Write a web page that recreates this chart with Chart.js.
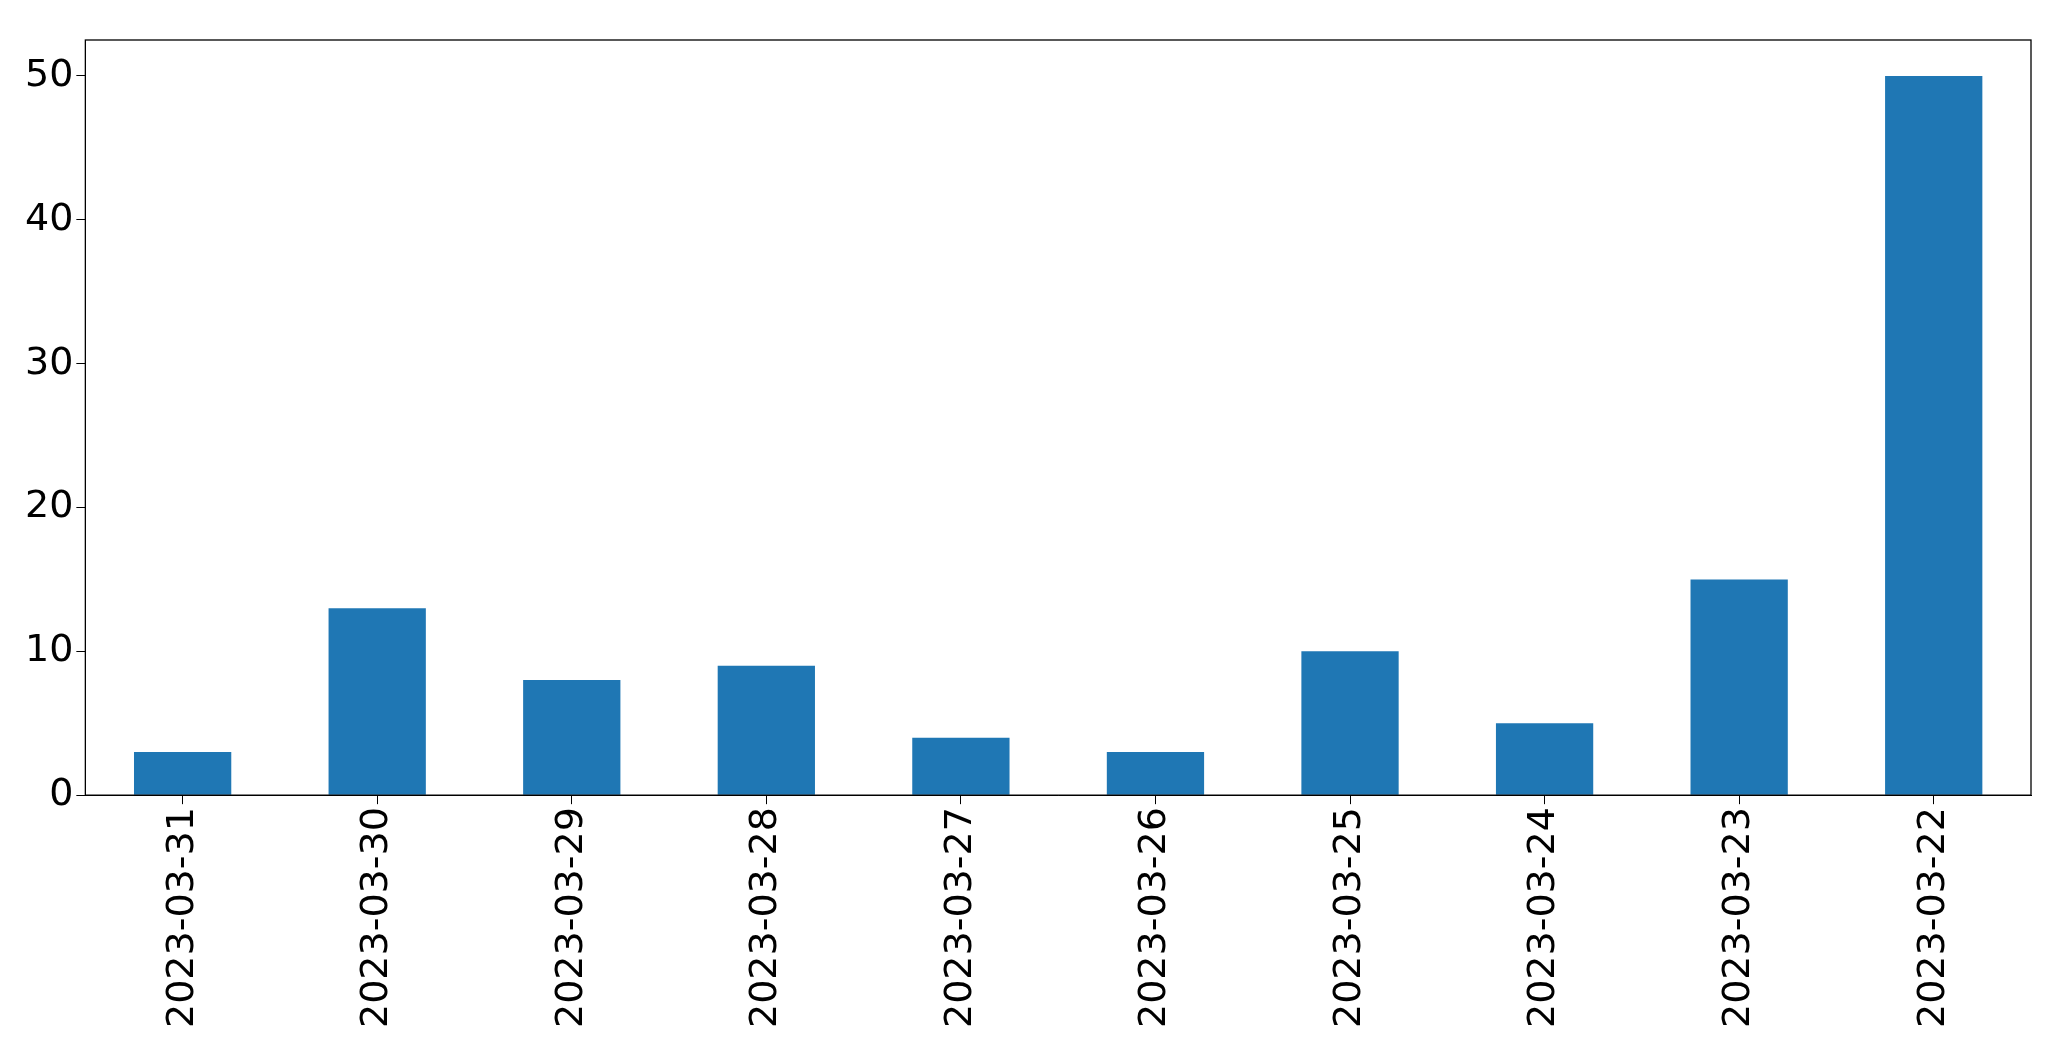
<!DOCTYPE html>
<html>
<head>
<meta charset="utf-8">
<script src="https://cdn.jsdelivr.net/npm/chart.js@4"></script>
<style>
  body { margin: 0; background: #fff; }
</style>
</head>
<body>
<canvas id="chart" width="2071" height="1061"></canvas>
<script>
const dates = ['2023-03-31', '2023-03-30', '2023-03-29', '2023-03-28', '2023-03-27',
               '2023-03-26', '2023-03-25', '2023-03-24', '2023-03-23', '2023-03-22'];
const counts = [3, 13, 8, 9, 4, 3, 10, 5, 15, 50];
const yTicks = [0, 10, 20, 30, 40, 50];

// draws the full box around the plot area
const frame = {
    id: 'frame',
    afterDraw(chart) {
        const a = chart.chartArea;
        const ctx = chart.ctx;
        ctx.save();
        ctx.strokeStyle = '#000';
        ctx.lineWidth = 1.3;
        ctx.strokeRect(a.left, a.top, a.right - a.left, a.bottom - a.top);
        ctx.restore();
    }
};

const ctx = document.getElementById('chart').getContext('2d');
new Chart(ctx, {
    type: 'bar',
    data: {
        labels: dates,
        datasets: [{
            data: counts,
            backgroundColor: '#1f77b4',
            categoryPercentage: 1.0,
            barPercentage: 0.5
        }]
    },
    options: {
        responsive: false,
        animation: false,
        layout: { padding: { left: 22, top: 40, right: 40, bottom: 30 } },
        plugins: { legend: { display: false }, tooltip: { enabled: false } },
        scales: {
            x: {
                grid: { offset: false, drawOnChartArea: false, tickLength: 9, color: '#000' },
                border: { color: '#000' },
                ticks: { color: '#000', maxRotation: 90, minRotation: 90,
                         font: { family: 'DejaVu Sans', size: 38 } }
            },
            y: {
                min: 0,
                max: 52.5,
                afterBuildTicks: axis => { axis.ticks = yTicks.map(v => ({ value: v })); },
                grid: { drawOnChartArea: false, tickLength: 9, color: '#000' },
                border: { color: '#000' },
                ticks: { color: '#000', font: { family: 'DejaVu Sans', size: 38 } }
            }
        }
    },
    plugins: [frame]
});
</script>
</body>
</html>
